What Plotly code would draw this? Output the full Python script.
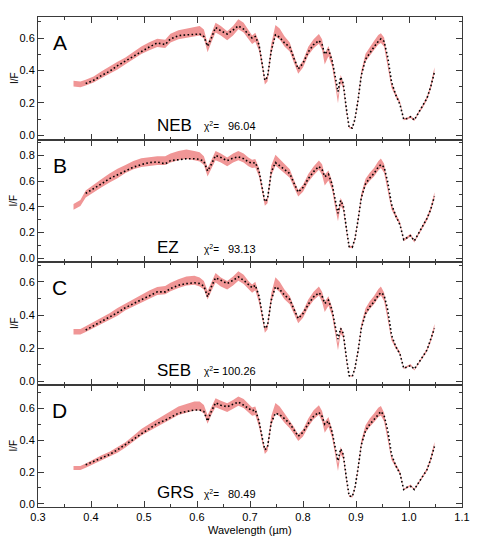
import numpy as np
import plotly.graph_objects as go
from plotly.subplots import make_subplots

# wavelength grid (micron)
wave = [0.367, 0.38, 0.39, 0.405, 0.42, 0.435, 0.45, 0.465, 0.48, 0.495,
        0.51, 0.525, 0.54, 0.55, 0.565, 0.58, 0.595, 0.605, 0.613, 0.62,
        0.627, 0.635, 0.645, 0.657, 0.668, 0.678, 0.688, 0.697, 0.704, 0.71,
        0.717, 0.724, 0.728, 0.733, 0.74, 0.748, 0.756, 0.765, 0.775, 0.783,
        0.791, 0.80, 0.81, 0.82, 0.83, 0.836, 0.841, 0.848, 0.855, 0.861,
        0.866, 0.871, 0.876, 0.882, 0.887, 0.893, 0.898, 0.904, 0.91, 0.918,
        0.926, 0.934, 0.942, 0.947, 0.953, 0.96, 0.967, 0.975, 0.983, 0.99,
        0.997, 1.003, 1.01, 1.018, 1.026, 1.034, 1.041, 1.048]

# relative half-width of the observed band
rel_err = [0.055, 0.055, 0.055, 0.055, 0.055, 0.055, 0.055, 0.045, 0.045, 0.045,
           0.045, 0.045, 0.045, 0.045, 0.045, 0.045, 0.045, 0.045, 0.045, 0.05,
           0.045, 0.045, 0.045, 0.045, 0.045, 0.045, 0.045, 0.045, 0.045, 0.045,
           0.05, 0.05, 0.05, 0.05, 0.06, 0.055, 0.055, 0.055, 0.05, 0.05,
           0.05, 0.05, 0.05, 0.05, 0.05, 0.06, 0.07, 0.06, 0.06, 0.08,
           0.1, 0.07, 0.06, 0.08, 0.1, 0.1, 0.08, 0.06, 0.05, 0.05,
           0.05, 0.05, 0.05, 0.05, 0.05, 0.05, 0.05, 0.05, 0.05, 0.06,
           0.06, 0.06, 0.06, 0.05, 0.05, 0.05, 0.05, 0.05]

obs_neb = [0.32, 0.315, 0.325, 0.345, 0.375, 0.40, 0.43, 0.46, 0.495, 0.525,
           0.55, 0.57, 0.565, 0.60, 0.62, 0.63, 0.64, 0.645, 0.625, 0.54,
           0.60, 0.665, 0.645, 0.615, 0.645, 0.685, 0.665, 0.625, 0.59, 0.605,
           0.55, 0.42, 0.33, 0.35, 0.53, 0.645, 0.625, 0.58, 0.545, 0.47,
           0.40, 0.44, 0.52, 0.565, 0.595, 0.56, 0.47, 0.52, 0.45, 0.33,
           0.22, 0.35, 0.31, 0.15, 0.05, 0.045, 0.10, 0.22, 0.38, 0.48,
           0.52, 0.555, 0.59, 0.60, 0.575, 0.44, 0.31, 0.25, 0.20, 0.10,
           0.105, 0.115, 0.095, 0.14, 0.18, 0.23, 0.30, 0.40]
mod_neb = [None, None, 0.32, 0.34, 0.37, 0.395, 0.43, 0.46, 0.49, 0.52,
           0.545, 0.57, 0.56, 0.595, 0.615, 0.62, 0.625, 0.625, 0.61, 0.55,
           0.60, 0.665, 0.645, 0.625, 0.65, 0.675, 0.655, 0.625, 0.60, 0.61,
           0.56, 0.42, 0.34, 0.36, 0.52, 0.62, 0.605, 0.57, 0.545, 0.475,
           0.41, 0.445, 0.515, 0.56, 0.585, 0.56, 0.50, 0.53, 0.46, 0.36,
           0.27, 0.36, 0.32, 0.16, 0.05, 0.045, 0.10, 0.22, 0.37, 0.47,
           0.51, 0.545, 0.58, 0.595, 0.58, 0.48, 0.33, 0.25, 0.19, 0.10,
           0.105, 0.115, 0.095, 0.14, 0.18, 0.23, 0.30, 0.39]

obs_ez = [0.40, 0.43, 0.50, 0.545, 0.585, 0.625, 0.66, 0.695, 0.725, 0.745,
          0.755, 0.76, 0.76, 0.78, 0.80, 0.81, 0.80, 0.79, 0.76, 0.67,
          0.73, 0.80, 0.78, 0.75, 0.78, 0.80, 0.78, 0.75, 0.735, 0.74,
          0.67, 0.53, 0.43, 0.45, 0.68, 0.765, 0.735, 0.70, 0.66, 0.58,
          0.505, 0.545, 0.625, 0.68, 0.725, 0.69, 0.61, 0.645, 0.565, 0.42,
          0.32, 0.44, 0.40, 0.22, 0.09, 0.085, 0.15, 0.30, 0.48, 0.59,
          0.635, 0.67, 0.72, 0.74, 0.70, 0.55, 0.40, 0.33, 0.27, 0.14,
          0.16, 0.18, 0.13, 0.19, 0.25, 0.31, 0.38, 0.49]
mod_ez = [None, None, 0.505, 0.54, 0.58, 0.62, 0.65, 0.685, 0.71, 0.73,
          0.745, 0.75, 0.735, 0.76, 0.77, 0.775, 0.775, 0.77, 0.755, 0.68,
          0.73, 0.80, 0.785, 0.76, 0.78, 0.79, 0.775, 0.75, 0.74, 0.745,
          0.68, 0.53, 0.44, 0.46, 0.67, 0.745, 0.72, 0.695, 0.66, 0.585,
          0.515, 0.55, 0.62, 0.675, 0.715, 0.69, 0.635, 0.655, 0.575, 0.45,
          0.35, 0.45, 0.41, 0.23, 0.09, 0.085, 0.15, 0.30, 0.47, 0.58,
          0.625, 0.66, 0.71, 0.73, 0.71, 0.59, 0.42, 0.33, 0.26, 0.145,
          0.16, 0.175, 0.135, 0.19, 0.25, 0.31, 0.38, 0.48]

obs_seb = [0.30, 0.30, 0.315, 0.34, 0.365, 0.39, 0.42, 0.45, 0.475, 0.50,
           0.525, 0.545, 0.55, 0.57, 0.59, 0.605, 0.61, 0.60, 0.58, 0.52,
           0.57, 0.625, 0.60, 0.58, 0.605, 0.635, 0.615, 0.58, 0.56, 0.575,
           0.50, 0.38, 0.31, 0.33, 0.50, 0.595, 0.57, 0.525, 0.49, 0.43,
           0.37, 0.405, 0.47, 0.515, 0.545, 0.51, 0.45, 0.485, 0.42, 0.31,
           0.21, 0.31, 0.28, 0.13, 0.035, 0.03, 0.08, 0.185, 0.33, 0.42,
           0.46, 0.49, 0.53, 0.545, 0.51, 0.39, 0.26, 0.21, 0.17, 0.08,
           0.09, 0.10, 0.07, 0.11, 0.15, 0.19, 0.25, 0.33]
mod_seb = [None, None, 0.31, 0.335, 0.36, 0.385, 0.415, 0.445, 0.47, 0.495,
           0.52, 0.54, 0.54, 0.56, 0.58, 0.59, 0.595, 0.59, 0.575, 0.51,
           0.57, 0.625, 0.61, 0.59, 0.61, 0.63, 0.61, 0.585, 0.565, 0.58,
           0.515, 0.39, 0.32, 0.335, 0.49, 0.57, 0.555, 0.52, 0.495, 0.435,
           0.38, 0.41, 0.465, 0.51, 0.535, 0.515, 0.47, 0.49, 0.43, 0.33,
           0.255, 0.32, 0.29, 0.14, 0.035, 0.03, 0.08, 0.185, 0.32, 0.41,
           0.45, 0.48, 0.52, 0.535, 0.52, 0.43, 0.28, 0.21, 0.165, 0.08,
           0.09, 0.095, 0.075, 0.11, 0.15, 0.19, 0.25, 0.32]

obs_grs = [0.225, 0.225, 0.24, 0.265, 0.29, 0.31, 0.34, 0.37, 0.41, 0.45,
           0.48, 0.51, 0.535, 0.555, 0.585, 0.60, 0.615, 0.615, 0.595, 0.53,
           0.585, 0.635, 0.62, 0.605, 0.625, 0.645, 0.63, 0.60, 0.58, 0.585,
           0.51, 0.39, 0.33, 0.35, 0.52, 0.60, 0.58, 0.54, 0.50, 0.46,
           0.415, 0.445, 0.51, 0.56, 0.59, 0.55, 0.48, 0.515, 0.44, 0.33,
           0.23, 0.335, 0.30, 0.15, 0.05, 0.045, 0.10, 0.225, 0.38, 0.47,
           0.51, 0.54, 0.575, 0.585, 0.545, 0.42, 0.29, 0.24, 0.195, 0.09,
           0.105, 0.115, 0.09, 0.13, 0.17, 0.215, 0.28, 0.37]
mod_grs = [None, None, 0.245, 0.265, 0.29, 0.31, 0.34, 0.37, 0.405, 0.44,
           0.475, 0.505, 0.525, 0.545, 0.57, 0.58, 0.59, 0.59, 0.58, 0.52,
           0.58, 0.635, 0.62, 0.61, 0.625, 0.64, 0.62, 0.60, 0.585, 0.59,
           0.52, 0.40, 0.34, 0.355, 0.51, 0.57, 0.56, 0.535, 0.505, 0.465,
           0.425, 0.45, 0.505, 0.55, 0.575, 0.55, 0.50, 0.52, 0.45, 0.35,
           0.27, 0.345, 0.31, 0.16, 0.05, 0.045, 0.10, 0.225, 0.37, 0.46,
           0.50, 0.53, 0.565, 0.58, 0.555, 0.46, 0.31, 0.24, 0.19, 0.09,
           0.105, 0.11, 0.09, 0.13, 0.17, 0.215, 0.28, 0.36]

letters = ["A", "B", "C", "D"]
regions = ["NEB", "EZ", "SEB", "GRS"]
chi2 = ["96.04", "93.13", "100.26", "80.49"]
y_ranges = [[-0.025, 0.73], [-0.03, 0.925], [-0.018, 0.72], [-0.02, 0.75]]

observed = [obs_neb, obs_ez, obs_seb, obs_grs]
models = [mod_neb, mod_ez, mod_seb, mod_grs]

FONT = "Liberation Sans, Arial, Helvetica, sans-serif"
PINK = "rgb(240,150,150)"
AXC = "#3a3a3a"

fig = make_subplots(rows=4, cols=1, shared_xaxes=True, vertical_spacing=0)

w = np.array(wave)
err = np.array(rel_err)
for i in range(4):
    row = i + 1
    obs = np.array(observed[i])
    fig.add_trace(go.Scatter(x=w, y=obs * (1 - err), mode="lines",
                             line=dict(width=0, color=PINK), hoverinfo="skip",
                             showlegend=False), row=row, col=1)
    fig.add_trace(go.Scatter(x=w, y=obs * (1 + err), mode="lines",
                             line=dict(width=0, color=PINK), fill="tonexty",
                             fillcolor=PINK, showlegend=False), row=row, col=1)
    fig.add_trace(go.Scatter(x=wave, y=models[i], mode="lines",
                             line=dict(color="black", width=1.6, dash="1.6px,2.4px"),
                             connectgaps=False, showlegend=False), row=row, col=1)

    fig.update_yaxes(range=y_ranges[i], dtick=0.2, tickformat=".1f",
                     ticks="inside", ticklen=6, tickcolor=AXC,
                     minor=dict(dtick=0.1, ticks="inside", ticklen=3, tickcolor=AXC),
                     showline=True, linecolor=AXC, linewidth=1, mirror="ticks",
                     showgrid=False, zeroline=False,
                     tickfont=dict(size=11, color="black", family=FONT),
                     row=row, col=1)
    fig.update_xaxes(range=[0.3, 1.1], dtick=0.1, tickformat=".1f",
                     ticks="inside", ticklen=6, tickcolor=AXC,
                     minor=dict(dtick=0.05, ticks="inside", ticklen=3, tickcolor=AXC),
                     showline=True, linecolor=AXC, linewidth=1, mirror="ticks",
                     showgrid=False, zeroline=False,
                     tickfont=dict(size=11, color="black", family=FONT),
                     row=row, col=1)

    yd = "y domain" if i == 0 else "y%d domain" % row
    fig.add_annotation(text=letters[i], xref="paper", yref=yd,
                       x=0.051, y=0.79, xanchor="center", yanchor="middle",
                       showarrow=False, font=dict(size=21, color="black", family=FONT))
    fig.add_annotation(text=regions[i], xref="paper", yref=yd,
                       x=0.277, y=0.115, xanchor="left", yanchor="middle",
                       showarrow=False, font=dict(size=17, color="black", family=FONT))
    fig.add_annotation(text="\u03c7<sup>2</sup>=", xref="paper", yref=yd,
                       x=0.386, y=0.11, xanchor="left", yanchor="middle",
                       showarrow=False, font=dict(size=10, color="black", family=FONT))
    fig.add_annotation(text=chi2[i], xref="paper", yref=yd,
                       x=0.52, y=0.11, xanchor="right", yanchor="middle",
                       showarrow=False, font=dict(size=11, color="black", family=FONT))
    fig.add_annotation(text="I/F", xref="paper", yref=yd,
                       x=-0.057, y=0.5, xanchor="center", yanchor="middle",
                       textangle=-90, showarrow=False,
                       font=dict(size=10, color="black", family=FONT))

fig.add_annotation(text="Wavelength (\u00b5m)", xref="paper", yref="paper",
                   x=0.5, y=-0.047, xanchor="center", yanchor="middle",
                   showarrow=False, font=dict(size=11, color="black", family=FONT))

# page body adds an 8px margin, so the figure is sized 8px smaller on each axis
fig.update_layout(width=470, height=538,
                  margin=dict(l=30, r=10, t=8, b=39),
                  paper_bgcolor="white", plot_bgcolor="white",
                  font=dict(family=FONT, color="black"),
                  showlegend=False)

fig.write_html("out.html")
